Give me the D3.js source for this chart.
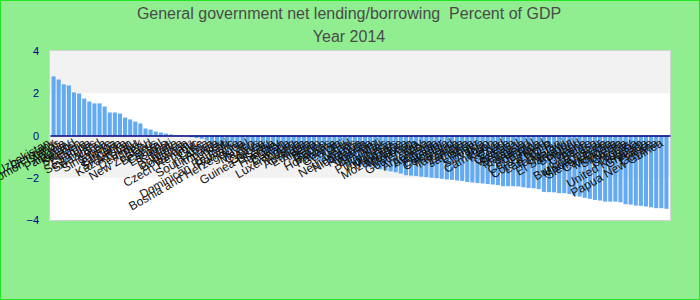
<!DOCTYPE html>
<html lang="en">
<head>
<meta charset="UTF-8">
<title>General government net lending/borrowing</title>
<style>
  * { margin: 0; padding: 0; }
  body { background: #90ee90; }
  svg { display: block; font-family: "Liberation Sans", Arial, sans-serif; }
</style>
<script src="https://cdn.jsdelivr.net/npm/d3@7"></script>
</head>
<body>
<div id="chart"></div>
<script>
// countries, sorted by value (descending)
var countries = [
  "Uzbekistan","Germany","Solomon Islands","Angola","Paraguay","Iceland","Sweden","Estonia","Samoa","Seychelles",
  "Swaziland","Korea","Singapore","Tonga","Bulgaria","Sri Lanka","Kazakhstan","Tuvalu","Denmark","Peru",
  "New Zealand","Belarus","Central","Lesotho","Kiribati","Malta","Dominica","Botswana","Vanuatu","Czech Republic",
  "Chile","Latvia","South Africa","Lithuania","Turkey","Haiti","Dominican Republic","Romania","Bosnia and Herzegovina","Israel",
  "Mexico","Cyprus","Guinea","Guinea-Bissau","Serbia","Hungary","Bhutan","Canada","Luxembourg","Austria",
  "Australia","Ethiopia","Algeria","Benin","Gabon","Honduras","Panama","Georgia","Fiji","Nepal",
  "Netherlands","Nicaragua","Rwanda","Uganda","Belgium","Mali","Philippines","Indonesia","Mauritius","Mozambique",
  "Moldova","Morocco","Guatemala","Italy","Argentina","Armenia","Albania","Ecuador","Colombia","Thailand",
  "Tanzania","Zambia","Jamaica","Liberia","Niger","Slovakia","Togo","Cameroon","Kenya","Chad",
  "Greece","Vietnam","Senegal","Malaysia","Ireland","Portugal","Costa Rica","Finland","Côte d'Ivoire","Lao P.D.R.",
  "Tajikistan","Malawi","El Salvador","Burundi","Poland","Ukraine","Belize","Burkina Faso","Madagascar","Sierra Leone",
  "Cambodia","Mongolia","Slovenia","Croatia","Uruguay","Tunisia","United Kingdom","Grenada","France","Guyana",
  "Papua New Guinea"
];

// percent of GDP, 2014
var values = [
  2.80, 2.65, 2.42, 2.37, 2.04, 1.99, 1.75, 1.61, 1.52, 1.52,
  1.37, 1.09, 1.09, 1.04, 0.85, 0.76, 0.66, 0.57, 0.33, 0.28,
  0.19, 0.14, 0.09, 0.05, 0.02, 0.01, 0.00, -0.08, -0.12, -0.16,
  -0.24, -0.43, -0.47, -0.50, -0.51, -0.51, -0.55, -0.60, -0.66, -0.71,
  -0.75, -0.80, -0.84, -0.88, -0.91, -0.95, -0.98, -1.01, -1.04, -1.08,
  -1.11, -1.15, -1.18, -1.21, -1.24, -1.27, -1.30, -1.33, -1.36, -1.40,
  -1.43, -1.46, -1.50, -1.55, -1.60, -1.65, -1.70, -1.74, -1.80, -1.88,
  -1.90, -1.92, -1.95, -1.97, -2.00, -2.02, -2.05, -2.08, -2.10, -2.13,
  -2.15, -2.20, -2.22, -2.25, -2.27, -2.30, -2.32, -2.35, -2.40, -2.40,
  -2.40, -2.41, -2.45, -2.48, -2.50, -2.54, -2.67, -2.68, -2.69, -2.73,
  -2.73, -2.77, -2.84, -2.89, -2.95, -3.00, -3.05, -3.08, -3.13, -3.13,
  -3.13, -3.16, -3.25, -3.27, -3.32, -3.33, -3.36, -3.40, -3.44, -3.44,
  -3.47
];

var yTicks = [-4, -2, 0, 2, 4];
var bands = [[2, 4], [-2, 0]];

var w = 700, h = 300,
    plotLeft = 50, plotRight = 670, plotTop = 51, plotBottom = 220;

var data = countries.map(function (c, i) { return { name: c, value: values[i] }; });

var svg = d3.select('#chart').append('svg')
    .attr('width', w)
    .attr('height', h);

svg.append('rect')
    .attr('x', 0).attr('y', 0)
    .attr('width', w).attr('height', h)
    .attr('fill', '#90ee90')
    .attr('stroke', '#22e622')
    .attr('stroke-width', 2);

var xScale = d3.scaleBand()
    .domain(countries)
    .range([plotLeft, plotRight])
    .paddingInner(0.2)
    .paddingOuter(0.3);

var yScale = d3.scaleLinear()
    .domain([-4, 4])
    .range([plotBottom, plotTop]);

// plot background + stripes
svg.append('rect')
    .attr('x', plotLeft).attr('y', plotTop)
    .attr('width', plotRight - plotLeft).attr('height', plotBottom - plotTop)
    .attr('fill', '#ffffff');

svg.selectAll('.band')
    .data(bands)
    .enter()
    .append('rect')
    .attr('class', 'band')
    .attr('x', plotLeft)
    .attr('y', function (d) { return yScale(d[1]); })
    .attr('width', plotRight - plotLeft)
    .attr('height', function (d) { return yScale(d[0]) - yScale(d[1]); })
    .attr('fill', '#f2f2f2');

svg.append('rect')
    .attr('x', plotLeft - 0.5).attr('y', plotTop - 0.5)
    .attr('width', plotRight - plotLeft + 1).attr('height', plotBottom - plotTop + 1)
    .attr('fill', 'none')
    .attr('stroke', '#d3d3d3');

// bars
svg.selectAll('.bar')
    .data(data)
    .enter()
    .append('rect')
    .attr('class', 'bar')
    .attr('x', function (d) { return xScale(d.name); })
    .attr('width', xScale.bandwidth())
    .attr('y', function (d) { return yScale(Math.max(0, d.value)); })
    .attr('height', function (d) { return Math.abs(yScale(d.value) - yScale(0)); })
    .attr('fill', '#63aaf0');

// x axis on the zero line
var xAxis = svg.append('g')
    .attr('transform', 'translate(0,' + yScale(0) + ')')
    .call(d3.axisBottom(xScale).tickSize(0).tickSizeOuter(0));

xAxis.select('.domain')
    .attr('stroke', '#000080')
    .attr('stroke-width', 1.5);

xAxis.selectAll('text')
    .style('text-anchor', 'end')
    .style('font-size', '12px')
    .style('font-family', '"Liberation Sans", Arial, sans-serif')
    .attr('fill', '#111')
    .attr('dx', '-.6em')
    .attr('dy', '.35em')
    .attr('transform', 'rotate(-30)');

// y axis
var yAxis = svg.append('g')
    .attr('transform', 'translate(' + plotLeft + ',0)')
    .call(d3.axisLeft(yScale).tickValues(yTicks).tickSize(0).tickPadding(11));

yAxis.select('.domain').remove();
yAxis.selectAll('text')
    .style('font-size', '11px')
    .style('font-family', '"Liberation Sans", Arial, sans-serif')
    .attr('fill', '#00008b');

// titles
svg.append('text')
    .attr('x', 349)
    .attr('y', 18.5)
    .attr('text-anchor', 'middle')
    .style('white-space', 'pre')
    .style('font-size', '16px')
    .attr('fill', '#4a4a4a')
    .text('General government net lending/borrowing  Percent of GDP');

svg.append('text')
    .attr('x', 349)
    .attr('y', 41.5)
    .attr('text-anchor', 'middle')
    .style('font-size', '16px')
    .attr('fill', '#4a4a4a')
    .text('Year 2014');
</script>
</body>
</html>
